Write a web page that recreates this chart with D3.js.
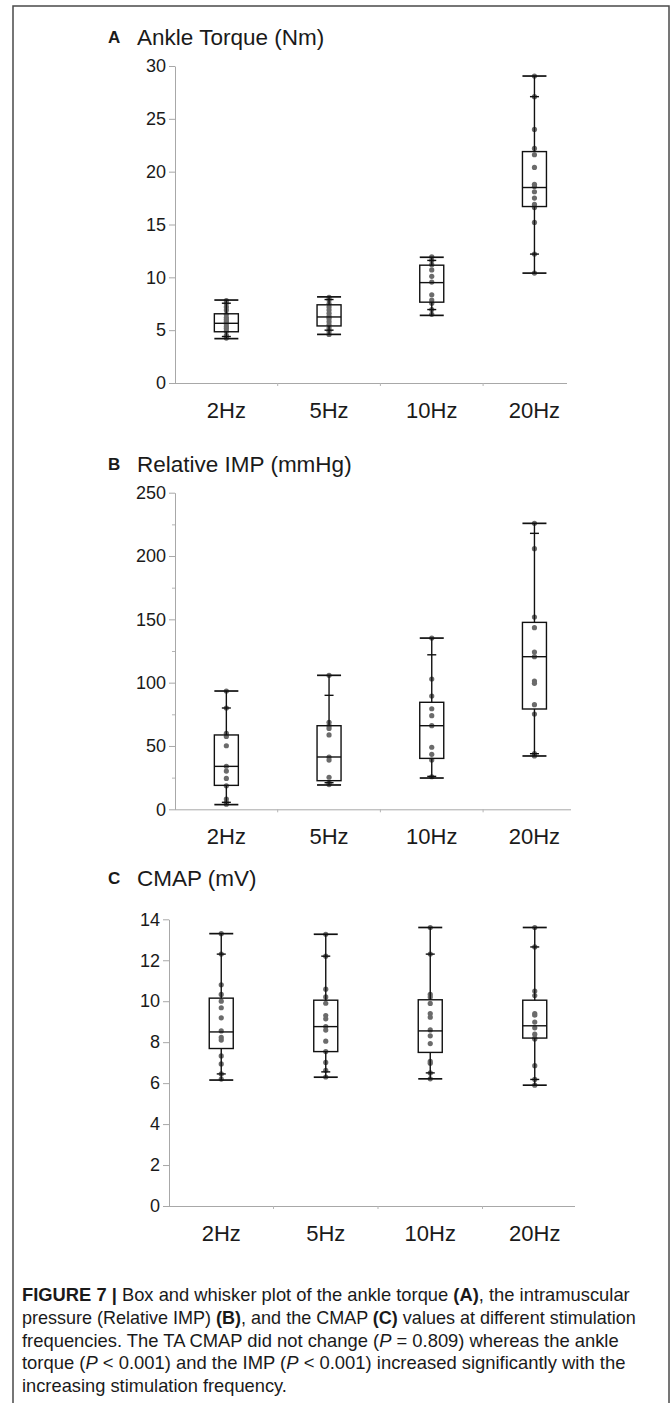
<!DOCTYPE html>
<html>
<head>
<meta charset="utf-8">
<script src="https://cdn.jsdelivr.net/npm/d3@7"></script>
<style>
  body { margin: 0; background: #fff; }
  svg { display: block; }
  text { font-family: "Liberation Sans", Arial, sans-serif; fill: #1a1a1a; }
</style>
</head>
<body>
<div id="chart"></div>
<script>
var categories = ["2Hz", "5Hz", "10Hz", "20Hz"];

// A - ankle torque (Nm)
var torqueTicks = [0, 5, 10, 15, 20, 25, 30];
var torqueLow = [4.2, 4.6, 6.4, 10.4];
var torqueQ1 = [4.85, 5.4, 7.65, 16.7];
var torqueMed = [5.65, 6.25, 9.5, 18.5];
var torqueQ3 = [6.55, 7.4, 11.15, 21.9];
var torqueHigh = [7.85, 8.15, 11.9, 29.05];
var torqueInnerLow = [4.4, 5.0, 6.95, 12.2];
var torqueInnerHigh = [7.55, 7.9, 11.6, 27.1];
var torquePoints = [
  [7.8, 7.55, 7.2, 6.9, 6.5, 6.2, 6.0, 5.8, 5.6, 5.35, 5.15, 4.9, 4.5, 4.25],
  [8.1, 7.85, 7.5, 7.2, 6.9, 6.6, 6.3, 6.1, 5.8, 5.5, 5.2, 4.9, 4.6],
  [11.95, 11.6, 11.2, 10.7, 10.1, 9.55, 8.35, 7.85, 7.55, 6.95, 6.5],
  [29.05, 27.1, 24.0, 22.2, 21.6, 20.4, 18.8, 18.6, 18.1, 17.5, 16.9, 16.6, 15.2, 12.2, 10.4]
];

// B - relative IMP (mmHg)
var impTicks = [0, 50, 100, 150, 200, 250];
var impMinorTicks = [25, 75, 125, 175, 225];
var impLow = [3.7, 19.2, 24.7, 42.1];
var impQ1 = [18.9, 22.6, 40.2, 79.2];
var impMed = [33.9, 41.3, 66, 120.5];
var impQ3 = [58.7, 66, 84.5, 147.6];
var impHigh = [93.4, 105.8, 135.2, 225.8];
var impInnerLow = [5.5, 21, 26, 43.9];
var impInnerHigh = [80, 90, 122, 217.9];
var impPoints = [
  [93.4, 80, 60, 57.5, 50.2, 34, 30.2, 24.4, 18.5, 8.1, 5.5, 4],
  [105.8, 68.7, 66, 63.9, 58.7, 41.3, 38.9, 25.3, 21, 19.5],
  [135.2, 102.9, 89.4, 79.4, 73.9, 66, 49, 43.4, 38.9, 25.7],
  [225.8, 205.8, 151.8, 143.4, 124.2, 120.5, 101.3, 99.5, 82.6, 75.2, 43.9, 42.1]
];

// C - CMAP (mV)
var cmapTicks = [0, 2, 4, 6, 8, 10, 12, 14];
var cmapLow = [6.15, 6.29, 6.21, 5.9];
var cmapQ1 = [7.69, 7.54, 7.5, 8.2];
var cmapMed = [8.5, 8.76, 8.55, 8.8];
var cmapQ3 = [10.15, 10.05, 10.07, 10.05];
var cmapHigh = [13.3, 13.27, 13.6, 13.6];
var cmapInnerLow = [6.45, 6.55, 6.5, 6.18];
var cmapInnerHigh = [12.3, 12.2, 12.3, 12.65];
var cmapPoints = [
  [13.3, 12.3, 10.8, 10.33, 10.0, 9.68, 9.19, 8.55, 8.23, 8.1, 7.33, 6.94, 6.45, 6.2],
  [13.27, 12.2, 10.59, 10.21, 9.9, 9.3, 9.14, 8.76, 8.59, 8.05, 7.54, 7.01, 6.63, 6.3],
  [13.6, 12.3, 10.33, 10.2, 9.89, 9.4, 9.22, 8.6, 8.31, 7.93, 7.06, 6.97, 6.5, 6.21],
  [13.6, 12.65, 10.5, 10.28, 9.4, 9.32, 8.98, 8.7, 8.39, 8.2, 8.15, 6.85, 6.18, 5.9]
];

var width = 672, height = 1403;

var svg = d3.select("#chart").append("svg")
  .attr("width", width)
  .attr("height", height);

// figure frame
svg.append("rect")
  .attr("x", 13).attr("y", 6)
  .attr("width", 656).attr("height", 1420)
  .attr("fill", "none")
  .attr("stroke", "#4a4a4a")
  .attr("stroke-width", 1.5);

function stats(low, q1, med, q3, high, il, ih, pts) {
  return categories.map(function(c, i) {
    return { cat: c, low: low[i], q1: q1[i], med: med[i], q3: q3[i], high: high[i],
             il: il[i], ih: ih[i], pts: pts[i] };
  });
}

var panels = [
  { letter: "A", title: "Ankle Torque (Nm)", titleY: 45, left: 175, top: 66, bottom: 383,
    band: 102.7, axisRight: 567, max: 30, ticks: torqueTicks, minor: [], boxW: 24,
    data: stats(torqueLow, torqueQ1, torqueMed, torqueQ3, torqueHigh, torqueInnerLow, torqueInnerHigh, torquePoints) },
  { letter: "B", title: "Relative IMP (mmHg)", titleY: 472, left: 175, top: 492.7, bottom: 809.3,
    band: 102.7, axisRight: 571, max: 250, ticks: impTicks, minor: impMinorTicks, boxW: 24,
    data: stats(impLow, impQ1, impMed, impQ3, impHigh, impInnerLow, impInnerHigh, impPoints) },
  { letter: "C", title: "CMAP (mV)", titleY: 886, left: 169, top: 919.3, bottom: 1206,
    band: 104.5, axisRight: 575, max: 14, ticks: cmapTicks, minor: [], boxW: 24,
    data: stats(cmapLow, cmapQ1, cmapMed, cmapQ3, cmapHigh, cmapInnerLow, cmapInnerHigh, cmapPoints) }
];

panels.forEach(drawPanel);

function drawPanel(p) {
  var g = svg.append("g");

  var y = d3.scaleLinear().domain([0, p.max]).range([p.bottom, p.top]);
  var x = d3.scaleBand().domain(categories)
    .range([p.left, p.left + p.band * categories.length]);

  // title
  g.append("text")
    .attr("x", 108).attr("y", p.titleY - 2)
    .attr("font-size", 17).attr("font-weight", "bold")
    .text(p.letter);
  g.append("text")
    .attr("x", 137).attr("y", p.titleY)
    .attr("font-size", 22.5)
    .text(p.title);

  // y axis
  var yAxis = g.append("g")
    .attr("transform", "translate(" + p.left + ",0)")
    .call(d3.axisLeft(y).tickValues(p.ticks).tickSize(6).tickSizeOuter(0).tickPadding(3));
  yAxis.select(".domain").attr("stroke", "#a8a8a8");
  yAxis.selectAll(".tick line").attr("stroke", "#a8a8a8");
  yAxis.selectAll(".tick text")
    .attr("font-size", 18)
    .attr("font-family", "Liberation Sans, Arial, sans-serif")
    .attr("fill", "#1a1a1a");

  if (p.minor.length) {
    var minorAxis = g.append("g")
      .attr("transform", "translate(" + p.left + ",0)")
      .call(d3.axisLeft(y).tickValues(p.minor).tickSize(3).tickFormat(""));
    minorAxis.select(".domain").remove();
    minorAxis.selectAll(".tick line").attr("stroke", "#b5b5b5");
  }

  // x axis
  g.append("line")
    .attr("x1", p.left).attr("x2", p.axisRight)
    .attr("y1", p.bottom + 0.5).attr("y2", p.bottom + 0.5)
    .attr("stroke", "#a8a8a8");
  g.selectAll(".xsep").data(categories.slice(1)).enter().append("line")
    .attr("x1", function(d) { return x(d); })
    .attr("x2", function(d) { return x(d); })
    .attr("y1", p.bottom).attr("y2", p.bottom + 3)
    .attr("stroke", "#b5b5b5");
  g.selectAll(".xlab").data(categories).enter().append("text")
    .attr("x", function(d) { return x(d) + x.bandwidth() / 2; })
    .attr("y", p.bottom + 35)
    .attr("text-anchor", "middle")
    .attr("font-size", 22)
    .text(function(d) { return d; });

  var hw = p.boxW / 2;
  var boxes = g.selectAll(".box").data(p.data).enter().append("g")
    .attr("transform", function(d) { return "translate(" + (x(d.cat) + x.bandwidth() / 2) + ",0)"; });

  // data points
  boxes.selectAll("circle").data(function(d) { return d.pts; }).enter().append("circle")
    .attr("cx", 0)
    .attr("cy", function(v) { return y(v); })
    .attr("r", 2.6)
    .attr("fill", "#6b6b6b");

  var stroke = "#111", sw = 1.4;

  // whiskers
  boxes.append("line")
    .attr("x1", 0).attr("x2", 0)
    .attr("y1", function(d) { return y(d.q3); })
    .attr("y2", function(d) { return y(d.high); })
    .attr("stroke", stroke).attr("stroke-width", sw);
  boxes.append("line")
    .attr("x1", 0).attr("x2", 0)
    .attr("y1", function(d) { return y(d.q1); })
    .attr("y2", function(d) { return y(d.low); })
    .attr("stroke", stroke).attr("stroke-width", sw);

  // caps
  ["low", "high"].forEach(function(k) {
    boxes.append("line")
      .attr("x1", -hw).attr("x2", hw)
      .attr("y1", function(d) { return y(d[k]); })
      .attr("y2", function(d) { return y(d[k]); })
      .attr("stroke", stroke).attr("stroke-width", sw + 0.3);
  });

  // inner percentile ticks
  ["il", "ih"].forEach(function(k) {
    boxes.append("line")
      .attr("x1", -4.5).attr("x2", 4.5)
      .attr("y1", function(d) { return y(d[k]); })
      .attr("y2", function(d) { return y(d[k]); })
      .attr("stroke", stroke).attr("stroke-width", sw);
  });

  // box
  boxes.append("rect")
    .attr("x", -hw)
    .attr("y", function(d) { return y(d.q3); })
    .attr("width", p.boxW)
    .attr("height", function(d) { return y(d.q1) - y(d.q3); })
    .attr("fill", "none")
    .attr("stroke", stroke).attr("stroke-width", sw);

  // median
  boxes.append("line")
    .attr("x1", -hw).attr("x2", hw)
    .attr("y1", function(d) { return y(d.med); })
    .attr("y2", function(d) { return y(d.med); })
    .attr("stroke", stroke).attr("stroke-width", sw);
}

// caption
var caption = [
  [["b", "FIGURE 7 | "], ["", "Box and whisker plot of the ankle torque "], ["b", "(A)"], ["", ", the intramuscular"]],
  [["", "pressure (Relative IMP) "], ["b", "(B)"], ["", ", and the CMAP "], ["b", "(C)"], ["", " values at different stimulation"]],
  [["", "frequencies. The TA CMAP did not change ("], ["i", "P"], ["", " = 0.809) whereas the ankle"]],
  [["", "torque ("], ["i", "P"], ["", " < 0.001) and the IMP ("], ["i", "P"], ["", " < 0.001) increased significantly with the"]],
  [["", "increasing stimulation frequency."]]
];
// right edge of each full line; the short last line keeps the average squeeze
var captionRight = [630, 636, 619, 626, null];

var cap = svg.append("g");
var squeeze = [];
caption.forEach(function(parts, i) {
  var baseY = 1301 + i * 22.8;
  var t = cap.append("text")
    .attr("x", 0)
    .attr("y", 0)
    .attr("font-size", 17.5)
    .style("font-family", "'Liberation Sans Narrow', 'Liberation Sans', Arial, sans-serif")
    .attr("fill", "#2a2a2a");
  parts.forEach(function(s) {
    t.append("tspan")
      .attr("font-weight", s[0] === "b" ? "bold" : null)
      .attr("font-style", s[0] === "i" ? "italic" : null)
      .text(s[1]);
  });
  var natural = t.node().getComputedTextLength();
  var k;
  if (captionRight[i] != null) {
    k = (captionRight[i] - 22) / natural;
    squeeze.push(k);
  } else {
    k = d3.mean(squeeze);
  }
  t.attr("transform", "translate(22," + baseY + ") scale(" + k + ",1)");
});
</script>
</body>
</html>
